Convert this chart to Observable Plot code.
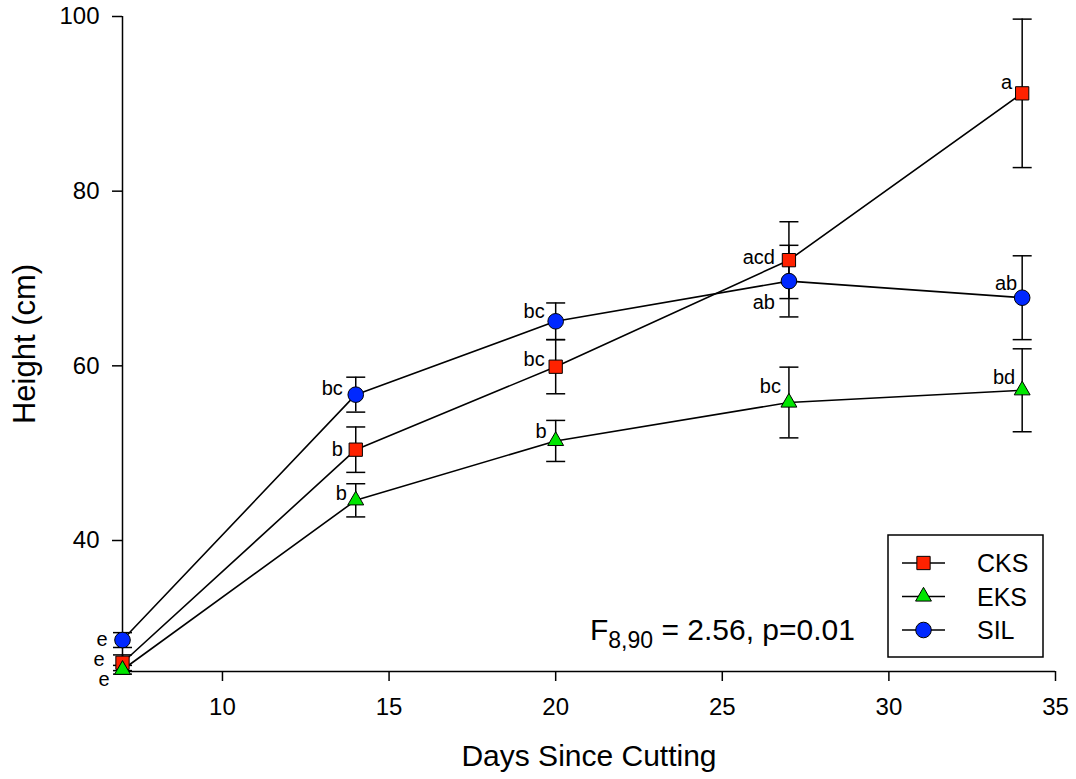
<!DOCTYPE html>
<html><head><meta charset="utf-8">
<script src="https://cdn.jsdelivr.net/npm/d3@7"></script>
<script src="https://cdn.jsdelivr.net/npm/@observablehq/plot@0.6"></script>
<style>
body{margin:0;background:#fff}
#chart svg{display:block}
#chart svg g[aria-label*="axis"] path, #chart svg g[aria-label*="axis"] line{stroke-width:1.5px}
</style>
</head><body><div id="chart"></div>
<script>
const days = [7, 14, 20, 27, 34];
const seriesNames = ["CKS", "EKS", "SIL"];
const seriesColors = ["#ff2200", "#00e600", "#0028ff"];
const seriesSymbols = ["square", "triangle", "circle"];
const cksMean = [26.0, 50.4, 59.9, 72.1, 91.2];
const cksErr = [0.9, 2.6, 3.1, 4.4, 8.5];
const cksLetters = ["e", "b", "bc", "acd", "a"];
const eksMean = [25.2, 44.6, 51.4, 55.8, 57.2];
const eksErr = [0.5, 1.9, 2.35, 4.05, 4.75];
const eksLetters = ["e", "b", "b", "bc", "bd"];
const silMean = [28.6, 56.7, 65.1, 69.7, 67.8];
const silErr = [0.85, 2.0, 2.1, 4.1, 4.8];
const silLetters = ["e", "bc", "bc", "ab", "ab"];
const xTicks = [10, 15, 20, 25, 30, 35];
const yTicks = [40, 60, 80, 100];
const xLabel = "Days Since Cutting";
const yLabel = "Height (cm)";
const statMain = "F", statSub = "8,90", statRest = " = 2.56, p=0.01";

// label nudges (pixels) for the letter annotations
const letterNudge = {
  CKS: [[-18, -3], [-13, 0], [-11, -7], [-14, -3], [-10, -11]],
  EKS: [[-13, 10], [-9, -7], [-9, -9], [-8, -16], [-7, -13]],
  SIL: [[-15, 0], [-13, -6], [-11, -10], [-14, 21], [-5, -14]]
};

const means = [cksMean, eksMean, silMean];
const errs = [cksErr, eksErr, silErr];
const letters = [cksLetters, eksLetters, silLetters];
const rows = seriesNames.flatMap((s, i) => days.map((d, j) => ({
  series: s, day: d, mean: means[i][j], err: errs[i][j], letter: letters[i][j], j
})));

const capSymbol = {draw(ctx) { ctx.moveTo(-9.5, 0); ctx.lineTo(9.5, 0); }};
const markerR = {square: 7.5, triangle: 5.9, circle: 7.8};
const font = "'Liberation Sans', Arial, sans-serif";

const marks = [
  Plot.ruleY([25], {stroke: "black", strokeWidth: 1.5}),
  Plot.ruleX([7], {stroke: "black", strokeWidth: 1.5}),
  Plot.line(rows, {x: "day", y: "mean", z: "series", stroke: "black", strokeWidth: 1.6}),
  Plot.ruleX(rows, {x: "day", y1: d => d.mean - d.err, y2: d => d.mean + d.err, stroke: "black", strokeWidth: 1.5}),
  Plot.dot(rows, {x: "day", y: d => d.mean + d.err, symbol: capSymbol, r: 5, stroke: "black", fill: "none", strokeWidth: 1.5}),
  Plot.dot(rows, {x: "day", y: d => d.mean - d.err, symbol: capSymbol, r: 5, stroke: "black", fill: "none", strokeWidth: 1.5}),
  ...seriesNames.map((s, i) => Plot.dot(rows.filter(r => r.series === s), {
    x: "day", y: "mean", symbol: seriesSymbols[i], r: markerR[seriesSymbols[i]],
    fill: seriesColors[i], stroke: "black", strokeWidth: 1
  })),
  ...rows.map(r => Plot.text([r], {
    x: "day", y: "mean", text: "letter", textAnchor: "end", fontSize: 20, fill: "black",
    dx: letterNudge[r.series][r.j][0], dy: letterNudge[r.series][r.j][1]
  })),
  Plot.text([xLabel], {frameAnchor: "bottom", text: d => d, textAnchor: "middle", lineAnchor: "middle", dy: 85, fontSize: 30, fill: "black"}),
  Plot.text([yLabel], {frameAnchor: "left", text: d => d, textAnchor: "middle", lineAnchor: "middle", dx: -97, rotate: -90, fontSize: 31, fill: "black"})
];

const svg = Plot.plot({
  width: 1076, height: 779,
  marginLeft: 122, marginRight: 21, marginTop: 16, marginBottom: 108,
  style: {fontSize: "24px", fontFamily: font, color: "black", background: "white", overflow: "visible"},
  x: {domain: [7, 35], ticks: xTicks, tickSize: 10, tickPadding: 16, tickFormat: d => String(d), label: null},
  y: {domain: [25, 100], ticks: yTicks, tickSize: 10, tickPadding: 13, tickFormat: d => String(d), label: null},
  marks
});
document.getElementById("chart").appendChild(svg);

// legend and statistic annotation
const root = d3.select(svg);
const leg = root.append("g").attr("font-family", font).attr("text-anchor", "start");
leg.append("rect").attr("x", 888).attr("y", 535).attr("width", 155).attr("height", 122)
  .attr("fill", "white").attr("stroke", "black").attr("stroke-width", 1.5);
const symMap = {square: d3.symbolSquare, triangle: d3.symbolTriangle, circle: d3.symbolCircle};
seriesNames.forEach((s, i) => {
  const y = 563 + i * 33.5;
  leg.append("line").attr("x1", 902).attr("x2", 945).attr("y1", y).attr("y2", y)
    .attr("stroke", "black").attr("stroke-width", 1.5);
  const r = markerR[seriesSymbols[i]];
  leg.append("path").attr("transform", `translate(923.5,${y})`)
    .attr("d", d3.symbol(symMap[seriesSymbols[i]], Math.PI * r * r)())
    .attr("fill", seriesColors[i]).attr("stroke", "black").attr("stroke-width", 1);
  leg.append("text").attr("x", 977).attr("y", y + 9).attr("font-size", 25).attr("fill", "black").text(s);
});
const st = root.append("text").attr("x", 590).attr("y", 640).attr("font-family", font)
  .attr("text-anchor", "start").attr("font-size", 30).attr("fill", "black");
st.append("tspan").text(statMain);
st.append("tspan").attr("dy", 8).attr("font-size", 23).text(statSub);
st.append("tspan").attr("dy", -8).text(statRest);
</script>
</body></html>
